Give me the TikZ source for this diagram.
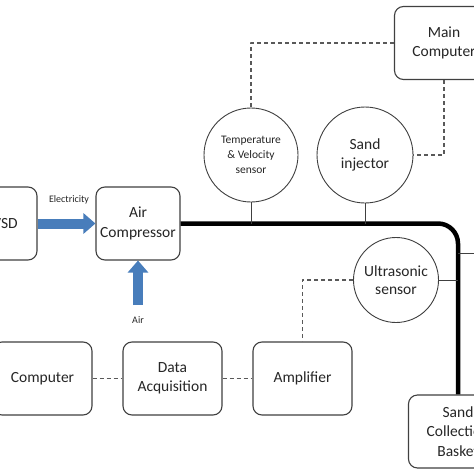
\documentclass[tikz,border=0pt]{standalone}
\usepackage{fontspec}
\setmainfont{Carlito}
\usetikzlibrary{arrows.meta}

\begin{document}
\begin{tikzpicture}[x=1pt,y=-1pt,line join=round]
% Colors
\colorlet{boxcolor}{black!75}
\colorlet{dashcolor}{black!65}
\colorlet{labelcolor}{black!85}
\definecolor{flowcolor}{RGB}{72,125,187}
% Styles
\tikzstyle{unit}=[draw=boxcolor,line width=1.1pt,rounded corners=9pt,minimum width=99pt,minimum height=73pt,align=center,text=labelcolor,font=\fontsize{15.5}{19.5}\selectfont]
\tikzstyle{sensor}=[circle,draw=boxcolor,line width=0.9pt,inner sep=0pt,align=center,text=labelcolor]
\tikzstyle{signal}=[draw=dashcolor,line width=1.1pt,dash pattern=on 4pt off 3pt]
\tikzstyle{pipe}=[line width=4.5pt,rounded corners=20pt]
\tikzstyle{tap}=[draw=boxcolor,line width=0.9pt]
\tikzstyle{flow}=[flowcolor,line width=10pt,-{Triangle[length=12pt,width=20pt]}]
\tikzstyle{small text}=[text=labelcolor,font=\fontsize{10}{12}\selectfont]
% The graphic
\fill[white] (0,0) rectangle (474,474);
\useasboundingbox (0,0) rectangle (474,474);
\clip (0,0) rectangle (474,474);
% Units
\node[unit,minimum width=64pt] (vsd) at (5,223.5) {VSD};
\node[unit,minimum width=84pt] (compressor) at (138,223.5) {Air\\Compressor};
\node[unit] (maincomp) at (444,43) {Main\\Computer};
\node[unit] (computer) at (42.5,378.5) {Computer};
\node[unit] (daq) at (172.5,378.5) {Data\\Acquisition};
\node[unit] (amplifier) at (302.5,378.5) {Amplifier};
\node[unit] (basket) at (458,431.5) {Sand\\Collection\\Basket};
% Sensors
\node[sensor,minimum size=94pt,font=\fontsize{11.5}{15}\selectfont] (tvsensor) at (251,155) {Temperature\\\& Velocity\\sensor};
\node[sensor,minimum size=96pt,font=\fontsize{15.5}{19}\selectfont] (injector) at (365,155) {Sand\\injector};
\node[sensor,minimum size=85pt,font=\fontsize{15.5}{18}\selectfont] (ultrasonic) at (396,280) {Ultrasonic\\sensor};
% Labels
\node[small text] (electricity) at (69,200) {Electricity};
\node[small text] (air) at (138,320) {Air};
\coordinate (air in) at (138,305);
\coordinate (pipe tap) at (458,253);
\coordinate (off page) at (490,253);
% Flows
\draw[flow] (vsd.east) -- (compressor.west);
\draw[flow] (air in) -- (compressor.south);
\draw[pipe] (compressor.east) -| (basket.north);
% Sensor taps
\draw[tap] (tvsensor.south) -- (tvsensor.south |- compressor.east);
\draw[tap] (injector.south) -- (injector.south |- compressor.east);
\draw[tap] (ultrasonic.east) -- (ultrasonic.east -| basket.north);
\draw[tap] (pipe tap) -- (off page);
% Signals
\draw[signal] (maincomp.west) -| (tvsensor.north);
\draw[signal] (maincomp.south) |- (injector.east);
\draw[signal] (ultrasonic.west) -| (amplifier.north);
\draw[signal] (computer.east) -- (daq.west);
\draw[signal] (daq.east) -- (amplifier.west);
\end{tikzpicture}
\end{document}
